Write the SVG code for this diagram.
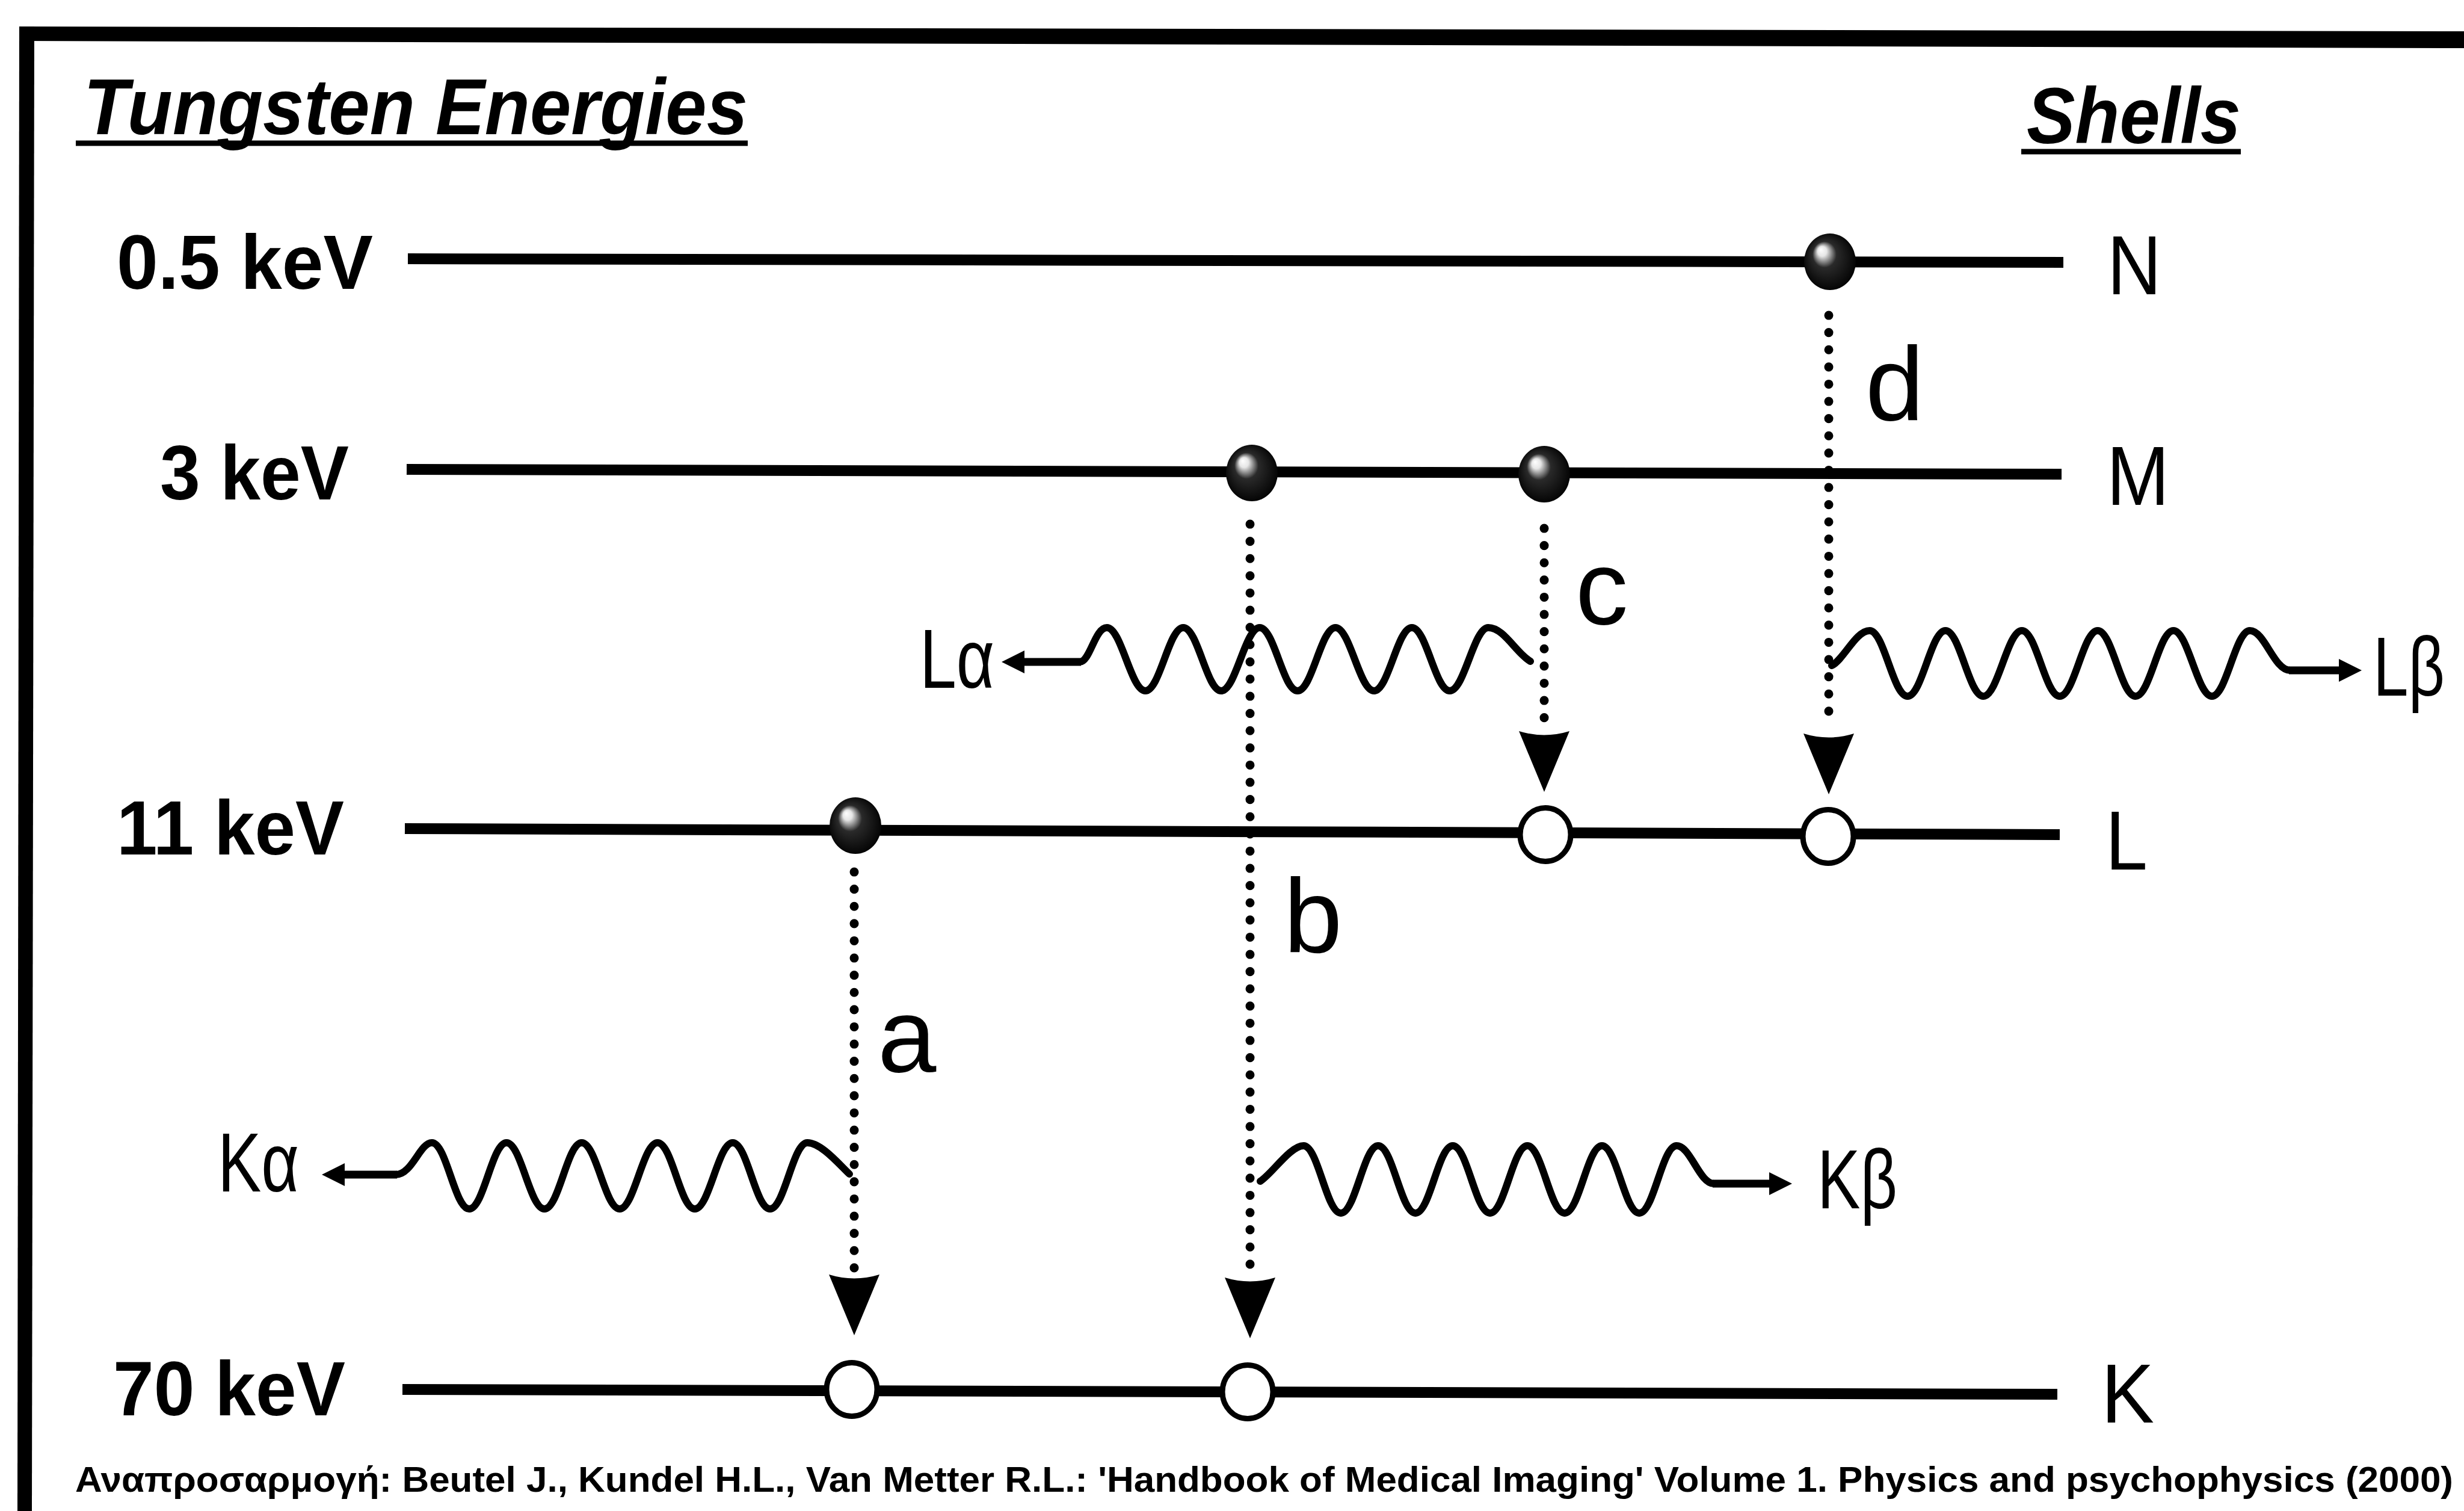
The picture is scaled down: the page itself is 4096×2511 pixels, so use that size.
<svg xmlns="http://www.w3.org/2000/svg" width="4096" height="2511" viewBox="0 0 4096 2511">
<defs>
<radialGradient id="sph" cx="50%" cy="50%" r="55%" fx="32%" fy="28%">
<stop offset="0" stop-color="#ffffff"/>
<stop offset="0.16" stop-color="#e6e6e6"/>
<stop offset="0.42" stop-color="#2a2a2a"/>
<stop offset="1" stop-color="#000000"/>
</radialGradient>
<path id="ah" d="M -42 -101 Q 0 -88 42 -101 L 0 0 Z"/>
<path id="pa" d="M 0 0 L -38 -19 L -38 19 Z"/>
<style>
text{font-family:"Liberation Sans",Arial,sans-serif;fill:#000}
.lvl{stroke:#000;stroke-width:18;fill:none}
.ul{stroke:#000;stroke-width:9}
.dot{stroke:#000;stroke-width:15;stroke-linecap:round;stroke-dasharray:0.1 28.5;fill:none}
.wave{stroke:#000;stroke-width:12;fill:none;stroke-linejoin:round;stroke-linecap:round}
.tail{stroke:#000;stroke-width:13;fill:none}
.hole{fill:#fff;stroke:#000;stroke-width:9}
.ball{fill:url(#sph)}
.energy{font-weight:bold;font-size:128px}
.shell{font-size:140px}
.lbl{font-size:175px}
.ph{font-size:140px}
.hdr{font-weight:bold;font-style:italic;font-size:132px}
.foot{font-weight:bold;font-size:60px}
</style>
</defs>
<rect width="4096" height="2511" fill="#fff"/>
<g id="frame">
<polygon points="32,44 4096,52 4096,80 32,68"/>
<polygon points="32,44 57,44 53,2511 29,2511"/>
</g>
<g id="title">
<text class="hdr" x="139" y="223" textLength="1104" lengthAdjust="spacingAndGlyphs">Tungsten Energies</text>
<line class="ul" x1="126" y1="238" x2="1243" y2="238"/>
</g>
<g id="shells-title">
<text class="hdr" x="3369" y="238" textLength="356" lengthAdjust="spacingAndGlyphs">Shells</text>
<line class="ul" x1="3360" y1="252" x2="3725" y2="252"/>
</g>
<g id="level-N">
<line class="lvl" x1="678" y1="430" x2="3430" y2="436"/>
<text class="energy" x="194" y="480" textLength="426" lengthAdjust="spacingAndGlyphs">0.5 keV</text>
<text class="shell" x="3503" y="489" textLength="90" lengthAdjust="spacingAndGlyphs">N</text>
</g>
<g id="level-M">
<line class="lvl" x1="676" y1="780" x2="3427" y2="788"/>
<text class="energy" x="266" y="830" textLength="314" lengthAdjust="spacingAndGlyphs">3 keV</text>
<text class="shell" x="3502" y="839" textLength="104" lengthAdjust="spacingAndGlyphs">M</text>
</g>
<g id="level-L">
<line class="lvl" x1="673" y1="1377" x2="3424" y2="1387"/>
<text class="energy" x="194" y="1420" textLength="378" lengthAdjust="spacingAndGlyphs">11 keV</text>
<text class="shell" x="3500" y="1445" textLength="70" lengthAdjust="spacingAndGlyphs">L</text>
</g>
<g id="level-K">
<line class="lvl" x1="669" y1="2309" x2="3420" y2="2317"/>
<text class="energy" x="188" y="2352" textLength="386" lengthAdjust="spacingAndGlyphs">70 keV</text>
<text class="shell" x="3493" y="2364" textLength="88" lengthAdjust="spacingAndGlyphs">K</text>
</g>
<g id="connectors">
<g id="arrow-a">
<line class="dot" x1="1420" y1="1449" x2="1420" y2="2108"/>
<use href="#ah" x="1420" y="2219"/>
<text class="lbl" x="1459" y="1781">a</text>
</g>
<g id="arrow-b">
<line class="dot" x1="2078" y1="871" x2="2078" y2="2108"/>
<use href="#ah" x="2078" y="2224"/>
<text class="lbl" x="2134" y="1582">b</text>
</g>
<g id="arrow-c">
<line class="dot" x1="2567" y1="878" x2="2567" y2="1206"/>
<use href="#ah" x="2567" y="1316"/>
<text class="lbl" x="2619" y="1037">c</text>
</g>
<g id="arrow-d">
<line class="dot" x1="3040" y1="524" x2="3040" y2="1206"/>
<use href="#ah" x="3040" y="1320"/>
<text class="lbl" x="3101" y="698">d</text>
</g>
<g id="photon-La">
<path class="wave" d="M 2544 1099 C 2520 1085, 2500 1043, 2474 1043 C 2450 1043, 2434 1148, 2410 1148 C 2386 1148, 2371 1043, 2347 1043 C 2323 1043, 2308 1148, 2284 1148 C 2260 1148, 2244 1043, 2220 1043 C 2196 1043, 2181 1148, 2157 1148 C 2133 1148, 2118 1043, 2094 1043 C 2070 1043, 2054 1148, 2030 1148 C 2006 1148, 1991 1043, 1967 1043 C 1943 1043, 1928 1148, 1904 1148 C 1880 1148, 1864 1043, 1840 1043 C 1820 1043, 1812 1100, 1795 1100"/>
<line class="tail" x1="1797" y1="1100" x2="1700" y2="1100"/>
<use href="#pa" transform="translate(1665,1100) scale(-1,1)"/>
<text class="ph" x="1529" y="1143" textLength="124" lengthAdjust="spacingAndGlyphs">Lα</text>
</g>
<g id="photon-Lb">
<path class="wave" d="M 3045 1106 C 3065 1096, 3085 1048, 3108 1048 C 3132 1048, 3147 1157, 3171 1157 C 3195 1157, 3210 1048, 3234 1048 C 3258 1048, 3273 1157, 3297 1157 C 3321 1157, 3337 1048, 3361 1048 C 3385 1048, 3400 1157, 3424 1157 C 3448 1157, 3463 1048, 3487 1048 C 3511 1048, 3526 1157, 3550 1157 C 3574 1157, 3589 1048, 3613 1048 C 3637 1048, 3653 1157, 3677 1157 C 3701 1157, 3716 1048, 3740 1048 C 3765 1048, 3780 1114, 3807 1114"/>
<line class="tail" x1="3805" y1="1114" x2="3893" y2="1114"/>
<use href="#pa" x="3926" y="1114"/>
<text class="ph" x="3945" y="1156" textLength="119" lengthAdjust="spacingAndGlyphs">Lβ</text>
</g>
<g id="photon-Ka">
<path class="wave" d="M 1412 1951 C 1395 1935, 1365 1899, 1342 1899 C 1318 1899, 1304 2009, 1280 2009 C 1256 2009, 1242 1899, 1218 1899 C 1194 1899, 1179 2009, 1155 2009 C 1131 2009, 1117 1899, 1093 1899 C 1069 1899, 1054 2009, 1030 2009 C 1006 2009, 991 1899, 967 1899 C 943 1899, 929 2009, 905 2009 C 881 2009, 866 1899, 842 1899 C 818 1899, 804 2009, 780 2009 C 756 2009, 742 1899, 718 1899 C 698 1899, 685 1952, 658 1952"/>
<line class="tail" x1="660" y1="1952" x2="570" y2="1952"/>
<use href="#pa" transform="translate(535,1952) scale(-1,1)"/>
<text class="ph" x="362" y="1980" textLength="135" lengthAdjust="spacingAndGlyphs">Kα</text>
</g>
<g id="photon-Kb">
<path class="wave" d="M 2095 1963 C 2115 1950, 2145 1904, 2167 1904 C 2191 1904, 2205 2016, 2229 2016 C 2253 2016, 2267 1904, 2291 1904 C 2315 1904, 2329 2016, 2353 2016 C 2377 2016, 2391 1904, 2415 1904 C 2439 1904, 2453 2016, 2477 2016 C 2501 2016, 2515 1904, 2539 1904 C 2563 1904, 2577 2016, 2601 2016 C 2625 2016, 2639 1904, 2663 1904 C 2687 1904, 2701 2016, 2725 2016 C 2749 2016, 2763 1904, 2787 1904 C 2810 1904, 2825 1967, 2849 1967"/>
<line class="tail" x1="2847" y1="1967" x2="2945" y2="1967"/>
<use href="#pa" x="2979" y="1967"/>
<text class="ph" x="3021" y="2008" textLength="133" lengthAdjust="spacingAndGlyphs">Kβ</text>
</g>
</g>
<g id="electron-N"><ellipse class="ball" cx="3042" cy="435" rx="43" ry="47"/></g>
<g id="electron-M1"><ellipse class="ball" cx="2081" cy="786" rx="43" ry="47"/></g>
<g id="electron-M2"><ellipse class="ball" cx="2567" cy="788" rx="43" ry="47"/></g>
<g id="electron-L"><ellipse class="ball" cx="1422" cy="1372" rx="43" ry="47"/></g>
<g id="hole-L1"><ellipse class="hole" cx="2569" cy="1387" rx="42" ry="44.5"/></g>
<g id="hole-L2"><ellipse class="hole" cx="3039" cy="1390" rx="42" ry="44.5"/></g>
<g id="hole-K1"><ellipse class="hole" cx="1416" cy="2309" rx="42" ry="44.5"/></g>
<g id="hole-K2"><ellipse class="hole" cx="2074" cy="2313" rx="42" ry="44.5"/></g>
<g id="footer">
<text class="foot" x="125" y="2479" textLength="3953" lengthAdjust="spacingAndGlyphs">Αναπροσαρμογή: Beutel J., Kundel H.L., Van Metter R.L.: 'Handbook of Medical Imaging' Volume 1. Physics and psychophysics (2000)</text>
</g>
</svg>
